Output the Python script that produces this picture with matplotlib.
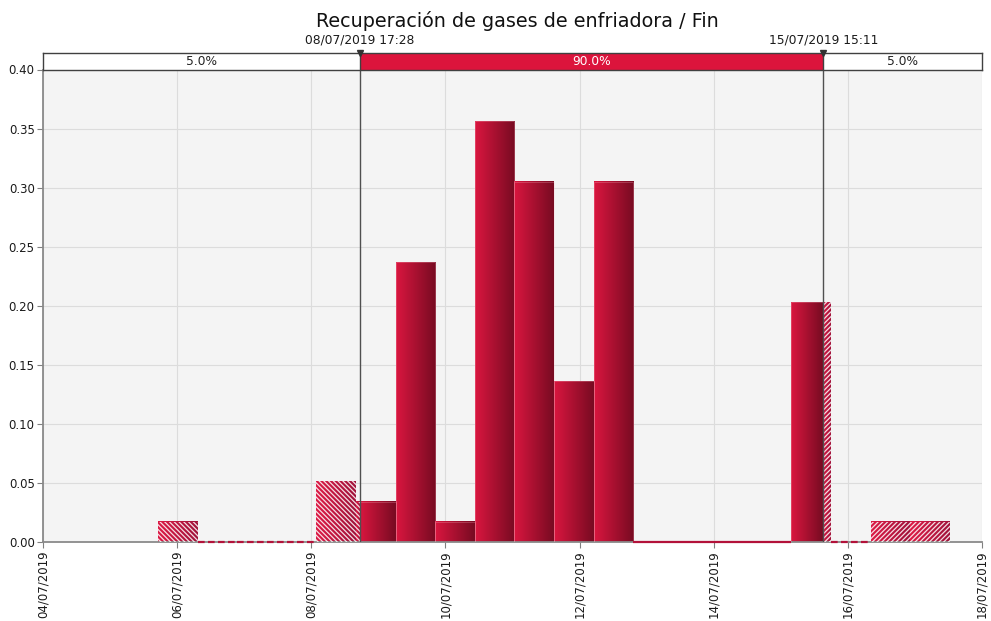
import matplotlib
matplotlib.use("Agg")
import matplotlib.pyplot as plt
import matplotlib.dates as mdates
from matplotlib.colors import LinearSegmentedColormap
from matplotlib.ticker import FormatStrFormatter
import numpy as np
from datetime import datetime, timedelta

# data
title = "Recuperación de gases de enfriadora / Fin"
bin_start = datetime(2019, 7, 5, 17, 10)
bin_width = timedelta(hours=14, minutes=10)
heights = [0.017, 0.0, 0.0, 0.0, 0.051, 0.034, 0.237, 0.017, 0.356, 0.305,
           0.136, 0.305, 0.0, 0.0, 0.0, 0.0, 0.203, 0.0, 0.017, 0.017]
q_low = datetime(2019, 7, 8, 17, 28)
q_high = datetime(2019, 7, 15, 15, 11)
band_labels = ["5.0%", "90.0%", "5.0%"]
x_start = datetime(2019, 7, 4)
x_end = datetime(2019, 7, 18)
y_ticks = [0.0, 0.05, 0.10, 0.15, 0.20, 0.25, 0.30, 0.35, 0.40]

crimson = "#dc143c"
solid_cmap = LinearSegmentedColormap.from_list("solid", ["#d9163f", "#780b22"])
hatch_cmap = LinearSegmentedColormap.from_list("hatch", ["#dc1a45", "#a0123a"])
grad = np.linspace(0, 1, 64).reshape(1, -1)

plt.rcParams["font.family"] = "DejaVu Sans"
plt.rcParams["hatch.linewidth"] = 0.9

fig = plt.figure(figsize=(9.91, 6.21), dpi=100)
ax = fig.add_axes([43 / 991, 1 - 541.7 / 621, 939 / 991, 472.2 / 621])
band = fig.add_axes([43 / 991, 1 - 69.5 / 621, 939 / 991, 17 / 621])

xs = mdates.date2num(x_start)
xe = mdates.date2num(x_end)
ql = mdates.date2num(q_low)
qh = mdates.date2num(q_high)
b0 = mdates.date2num(bin_start)
bw = bin_width.total_seconds() / 86400.0

ax.set_facecolor("#f4f4f4")


def draw_segment(x0, x1, h, kind):
    if x1 <= x0:
        return
    if h == 0:
        style = "-" if kind == "in" else (0, (3, 1.5))
        ax.hlines(0, x0, x1, colors="#b3123a", linewidth=1.6, linestyles=style,
                  zorder=4, clip_on=False)
        return
    cmap = solid_cmap if kind == "in" else hatch_cmap
    ax.imshow(grad, extent=[x0, x1, 0, h], aspect="auto", cmap=cmap,
              interpolation="bilinear", zorder=2)
    if kind == "in":
        ax.bar(x0, h, width=x1 - x0, align="edge", facecolor="none",
               edgecolor=(1, 0.75, 0.8, 0.3), linewidth=0.6, zorder=3)
    else:
        hatch = "\\" * 7 if kind == "low" else "/" * 7
        ax.bar(x0, h, width=x1 - x0, align="edge", facecolor="none",
               edgecolor=(1, 1, 1, 0.85), hatch=hatch, linewidth=0, zorder=3)


for i, h in enumerate(heights):
    lo = b0 + i * bw
    hi = lo + bw
    draw_segment(lo, min(hi, ql), h, "low")
    draw_segment(max(lo, ql), min(hi, qh), h, "in")
    draw_segment(max(lo, qh), hi, h, "high")

for q in (ql, qh):
    ax.axvline(q, color="#505050", linewidth=1, zorder=5)

ax.set_xlim(xs, xe)
ax.set_ylim(0, 0.40)

ticks = [x_start + timedelta(days=2 * i) for i in range(8)]
ax.set_xticks(mdates.date2num(ticks))
ax.xaxis.set_major_formatter(mdates.DateFormatter("%d/%m/%Y"))
ax.set_yticks(y_ticks)
ax.yaxis.set_major_formatter(FormatStrFormatter("%.2f"))
ax.tick_params(axis="both", direction="out", length=4, color="#808080",
               labelsize=8.5, labelcolor="#1a1a1a", pad=2)
plt.setp(ax.get_xticklabels(), rotation=90)
ax.grid(True, color="#dcdcdc", linewidth=0.8, zorder=0)
ax.set_axisbelow(True)
for side in ("top", "right"):
    ax.spines[side].set_visible(False)
for side in ("left", "bottom"):
    ax.spines[side].set_color("#8a8a8a")
    ax.spines[side].set_linewidth(1.3)

# percentile band above the plot
band.set_xlim(xs, xe)
band.set_ylim(0, 1)
band.axvspan(xs, ql, facecolor="white", zorder=1)
band.axvspan(ql, qh, facecolor=crimson, zorder=1)
band.axvspan(qh, xe, facecolor="white", zorder=1)
band.text((xs + ql) / 2, 0.45, band_labels[0], ha="center", va="center",
          fontsize=8.8, color="#222222")
band.text((ql + qh) / 2, 0.45, band_labels[1], ha="center", va="center",
          fontsize=8.8, color="white")
band.text((qh + xe) / 2, 0.45, band_labels[2], ha="center", va="center",
          fontsize=8.8, color="#222222")
for q, d in ((ql, q_low), (qh, q_high)):
    band.axvline(q, color="#404040", linewidth=1, zorder=2)
    band.plot([q], [1.0], marker="v", color="#333333", markersize=5,
              clip_on=False, zorder=6)
    band.annotate(d.strftime("%d/%m/%Y %H:%M"), xy=(q, 1.0),
                  xytext=(0, 4), textcoords="offset points",
                  ha="center", va="bottom", fontsize=8.8, color="#1a1a1a",
                  annotation_clip=False)
band.set_xticks([])
band.set_yticks([])
for s in band.spines.values():
    s.set_color("#404040")
    s.set_linewidth(1)

fig.text(517 / 991, 1 - 27 / 621, title, ha="center", va="baseline",
         fontsize=13.8, color="#111111")

fig.savefig("out.png", dpi=100)
